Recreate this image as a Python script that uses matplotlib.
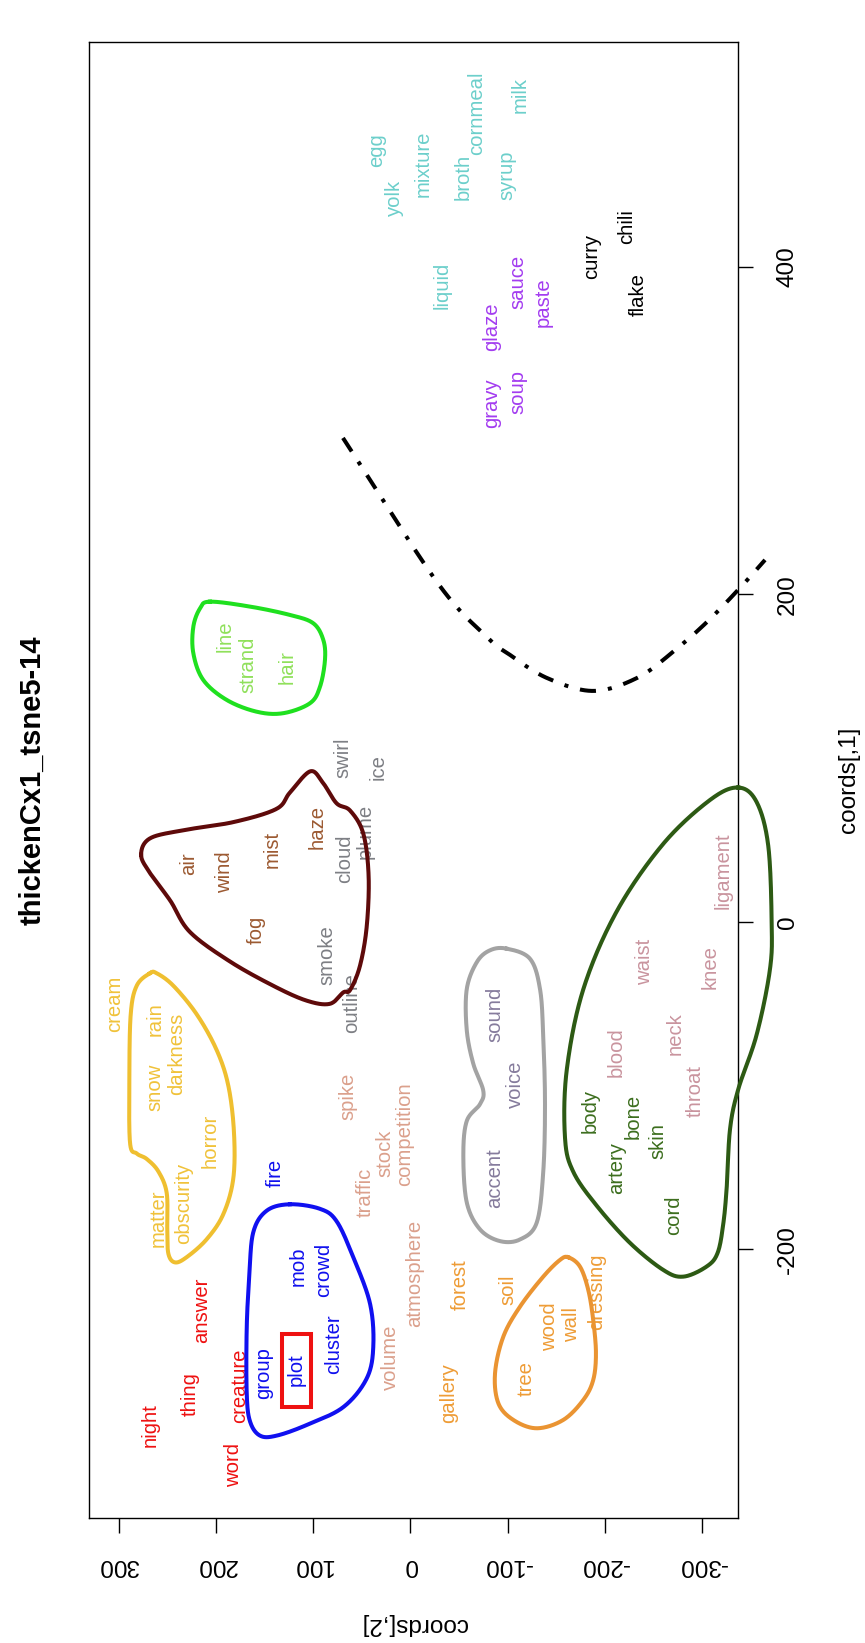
import numpy as np
import matplotlib
matplotlib.use("Agg")
import matplotlib.pyplot as plt
from matplotlib.patches import Rectangle

plt.rcParams['font.family'] = ['Liberation Sans', 'DejaVu Sans']

TITLE = "thickenCx1_tsne5-14"
XLAB = "coords[,1]"
YLAB = "coords[,2]"

# ---- word positions: (coords[,1], coords[,2]) ----
red_words = ["night", "thing", "word", "creature", "answer"]
red_c1 = [-307.2, -288.6, -331.6, -283.2, -237.4]
red_c2 = [267.9, 226.7, 181.5, 175.3, 214.7]

blue_words = ["fire", "mob", "crowd", "group", "plot", "cluster"]
blue_c1 = [-153.4, -210.1, -212.3, -275.5, -273.3, -258.1]
blue_c2 = [139.3, 115.3, 89.6, 151.3, 117.0, 79.3]

yellow_words = ["cream", "rain", "snow", "darkness", "horror", "matter", "obscurity"]
yellow_c1 = [-49.8, -59.6, -101.1, -80.4, -133.8, -180.7, -172.0]
yellow_c2 = [303.9, 262.7, 262.7, 240.4, 206.2, 259.3, 233.6]

brown_words = ["air", "wind", "mist", "fog", "haze"]
brown_c1 = [35.8, 30.7, 44.0, -4.9, 58.2]
brown_c2 = [228.5, 190.7, 142.7, 158.1, 96.4]

grey_words = ["smoke", "outline", "cloud", "plume", "swirl", "ice"]
grey_c1 = [-20.2, -49.8, 38.9, 55.1, 100.0, 94.8]
grey_c2 = [86.1, 60.4, 67.3, 46.7, 69.1, 33.1]

lime_words = ["line", "strand", "hair"]
lime_c1 = [174.2, 156.9, 155.9]
lime_c2 = [190.7, 166.8, 127.3]

salmon_words = ["spike", "traffic", "stock", "competition", "atmosphere", "volume"]
salmon_c1 = [-106.5, -165.4, -141.4, -129.4, -214.5, -265.7]
salmon_c2 = [63.9, 46.7, 26.2, 5.6, -4.7, 21.0]

orange_words = ["forest", "soil", "gallery", "tree", "wood", "wall", "dressing"]
orange_c1 = [-221.7, -224.7, -287.8, -278.7, -247.1, -246.1, -225.8]
orange_c2 = [-51.0, -100.7, -38.9, -119.6, -143.5, -165.9, -191.6]

slate_words = ["sound", "voice", "accent"]
slate_c1 = [-56.6, -98.9, -156.7]
slate_c2 = [-87.0, -107.5, -87.0]

dkgreen_words = ["body", "artery", "bone", "skin", "cord"]
dkgreen_c1 = [-115.4, -150.5, -118.5, -134.0, -179.4]
dkgreen_c2 = [-184.7, -212.1, -229.2, -254.9, -270.4]

pink_words = ["blood", "waist", "neck", "throat", "knee", "ligament"]
pink_c1 = [-79.3, -24.6, -68.0, -103.0, -27.7, 31.1]
pink_c2 = [-212.1, -241.2, -272.1, -292.7, -308.1, -321.8]

cyan_words = ["egg", "yolk", "mixture", "broth", "cornmeal", "syrup", "milk", "liquid"]
cyan_c1 = [471.5, 441.9, 463.3, 455.2, 493.9, 456.2, 505.0, 389.0]
cyan_c2 = [34.7, 15.9, -13.2, -54.4, -68.1, -99.0, -112.7, -32.1]

purple_words = ["glaze", "gravy", "sauce", "soup", "paste"]
purple_c1 = [363.5, 316.8, 391.0, 323.9, 378.8]
purple_c2 = [-83.6, -83.6, -110.9, -110.9, -136.7]

black_words = ["curry", "chili", "flake"]
black_c1 = [406.3, 424.6, 382.9]
black_c2 = [-186.4, -222.4, -234.4]

# ---- hull outlines (coords[,2], coords[,1]) ----
hull_blue_c2 = [123.9, 147.8, 161.6, 165.7, 168.4, 168.4, 165.0, 154.7, 137.6, 106.7, 69.1, 45.0, 38.2, 41.6, 58.8, 75.9, 93.0]
hull_blue_c1 = [-172.4, -176.3, -189.4, -215.6, -248.3, -287.6, -305.0, -313.7, -313.7, -307.2, -296.3, -278.8, -259.2, -233.0, -204.7, -182.8, -175.2]

hull_yellow_c2 = [267.9, 281.5, 287.7, 289.1, 288.4, 281.5, 271.3, 259.3, 250.7, 250.1, 249.0, 242.2, 230.1, 209.6, 192.5, 182.2, 181.5, 187.3, 199.3, 219.8, 243.9, 261.0]
hull_yellow_c1 = [-31.3, -38.9, -56.4, -95.6, -134.9, -141.4, -144.7, -152.3, -165.4, -187.2, -202.5, -207.9, -204.7, -193.8, -178.5, -156.7, -128.3, -100.0, -78.2, -56.4, -38.9, -31.3]

hull_maroon_c2 = [277.0, 268.0, 234.0, 182.0, 138.0, 124.0, 103.0, 90.0, 76.0, 62.0, 48.5, 43.0, 45.0, 52.0, 62.0, 69.0, 83.0, 107.0, 141.0, 186.0, 227.0, 247.0, 268.0]
hull_maroon_c1 = [41.0, 51.0, 56.0, 61.0, 69.0, 79.0, 92.0, 85.0, 72.5, 68.0, 54.0, 28.0, -3.0, -27.0, -41.5, -43.0, -50.0, -48.0, -39.0, -24.0, -6.0, 13.0, 30.0]

hull_lime_c2 = [206.2, 165.0, 123.9, 99.9, 89.6, 87.9, 93.0, 103.3, 130.8, 158.1, 189.0, 213.1, 223.3, 223.3, 216.4]
hull_lime_c1 = [195.6, 192.6, 187.5, 182.4, 172.2, 160.0, 143.7, 133.6, 127.5, 128.4, 135.6, 147.8, 164.1, 180.3, 191.5]

hull_grey_c2 = [-99.0, -123.0, -133.3, -136.6, -138.4, -136.6, -129.9, -112.7, -92.1, -71.5, -57.9, -54.4, -57.9, -71.5, -74.9, -64.6, -57.9, -57.9, -68.2, -81.8]
hull_grey_c1 = [-16.3, -22.5, -41.1, -70.0, -111.3, -152.6, -183.6, -193.9, -194.9, -187.7, -171.2, -142.3, -121.6, -111.3, -103.0, -86.5, -65.9, -41.1, -24.6, -17.3]

hull_dkgreen_c2 = [-337.2, -356.1, -368.0, -371.5, -369.8, -356.1, -337.2, -328.7, -325.3, -321.8, -316.0, -304.7, -280.6, -260.0, -225.8, -191.6, -167.5, -159.0, -160.7, -177.8, -212.1, -260.0, -308.1]
hull_dkgreen_c1 = [82.1, 73.2, 46.6, 0.0, -28.8, -68.8, -102.1, -126.5, -162.0, -184.2, -202.0, -210.4, -216.6, -212.5, -196.0, -173.3, -152.6, -132.0, -90.7, -41.1, 6.4, 47.7, 74.5]

hull_orange_c2 = [-162.4, -174.4, -182.9, -188.0, -190.8, -188.0, -177.8, -157.2, -129.9, -105.8, -90.4, -87.0, -95.5, -112.7, -136.6, -153.8]
hull_orange_c1 = [-204.8, -210.5, -224.7, -243.1, -263.4, -279.7, -291.9, -304.1, -309.2, -304.1, -293.9, -275.6, -253.3, -234.9, -216.6, -206.4]

# open dot-dash curve (coords[,2], coords[,1])
curve_c2 = [69.4, -27.3, -78.7, -102.4, -140.4, -187.7, -233.0, -270.0, -305.0, -338.9, -364.7]
curve_c1 = [295.6, 207.6, 174.0, 163.1, 149.0, 141.1, 149.0, 164.9, 183.2, 204.0, 221.1]

# red box around "plot"
box_c2 = [102.6, 132.4]
box_c1 = [-296.3, -251.5]

x_ticks = [-200, 0, 200, 400]
y_ticks = [300, 200, 100, 0, -100, -200, -300]


def _cr(p0, p1, p2, p3, n):
    t = np.linspace(0, 1, n, endpoint=False)[:, None]
    return 0.5 * ((2 * p1) + (-p0 + p2) * t + (2 * p0 - 5 * p1 + 4 * p2 - p3) * t ** 2
                  + (-p0 + 3 * p1 - 3 * p2 + p3) * t ** 3)


def closed_spline(xs, ys, n=40):
    pts = np.column_stack([xs, ys]).astype(float)
    m = len(pts)
    segs = [_cr(pts[(i - 1) % m], pts[i], pts[(i + 1) % m], pts[(i + 2) % m], n) for i in range(m)]
    segs.append(pts[:1])
    out = np.vstack(segs)
    return out[:, 0], out[:, 1]


def open_spline(xs, ys, n=40):
    pts = np.column_stack([xs, ys]).astype(float)
    ext = np.vstack([2 * pts[0] - pts[1], pts, 2 * pts[-1] - pts[-2]])
    segs = [_cr(ext[i - 1], ext[i], ext[i + 1], ext[i + 2], n) for i in range(1, len(ext) - 2)]
    segs.append(pts[-1:])
    out = np.vstack(segs)
    return out[:, 0], out[:, 1]


W, H = 865, 1643
fig = plt.figure(figsize=(W / 100, H / 100), dpi=100)
L, R, T, B = 89, 738, 42, 1518
ax = fig.add_axes([L / W, 1 - B / H, (R - L) / W, (B - T) / H])
ax.set_xlim(330.6, -336.9)
ax.set_ylim(-364.0, 537.4)

for s in ax.spines.values():
    s.set_linewidth(1.0)
    s.set_color("black")

WFS = 14.6
groups = [
    (red_words, red_c1, red_c2, "#ee1111"),
    (blue_words, blue_c1, blue_c2, "#1010ee"),
    (yellow_words, yellow_c1, yellow_c2, "#f0c23a"),
    (brown_words, brown_c1, brown_c2, "#9c5a32"),
    (grey_words, grey_c1, grey_c2, "#7d7f84"),
    (lime_words, lime_c1, lime_c2, "#8fe05a"),
    (salmon_words, salmon_c1, salmon_c2, "#dba08c"),
    (orange_words, orange_c1, orange_c2, "#ee9c36"),
    (slate_words, slate_c1, slate_c2, "#857b9c"),
    (dkgreen_words, dkgreen_c1, dkgreen_c2, "#3c6e1e"),
    (pink_words, pink_c1, pink_c2, "#c9949e"),
    (cyan_words, cyan_c1, cyan_c2, "#6ccfcb"),
    (purple_words, purple_c1, purple_c2, "#a33cf0"),
    (black_words, black_c1, black_c2, "#000000"),
]
for words, c1s, c2s, col in groups:
    for w, a, b in zip(words, c1s, c2s):
        ax.text(b, a, w, rotation=90, ha="center", va="center", fontsize=WFS,
                color=col, zorder=2)

HLW = 2.9
hulls = [
    (hull_blue_c2, hull_blue_c1, "#1010f0"),
    (hull_yellow_c2, hull_yellow_c1, "#efbf30"),
    (hull_maroon_c2, hull_maroon_c1, "#5e0a0a"),
    (hull_lime_c2, hull_lime_c1, "#1fe01f"),
    (hull_grey_c2, hull_grey_c1, "#a3a3a3"),
    (hull_dkgreen_c2, hull_dkgreen_c1, "#2d5a14"),
    (hull_orange_c2, hull_orange_c1, "#ea9432"),
]
for xs, ys, col in hulls:
    sx, sy = closed_spline(xs, ys)
    ax.plot(sx, sy, color=col, lw=HLW, zorder=3, clip_on=False,
            solid_joinstyle="round")

cx, cy = open_spline(curve_c2, curve_c1)
ax.plot(cx, cy, color="black", lw=HLW, linestyle=(0, (4, 3, 1, 3)),
        dash_capstyle="butt", zorder=3, clip_on=False)

ax.add_patch(Rectangle((min(box_c2), min(box_c1)), abs(box_c2[1] - box_c2[0]),
                       abs(box_c1[1] - box_c1[0]), fill=False, edgecolor="#ee1111",
                       lw=HLW, zorder=3))

# axes ticks
ax.set_xticks(y_ticks)
ax.set_xticklabels([str(v) for v in y_ticks], rotation=180, va="center", ha="center")
ax.yaxis.tick_right()
ax.set_yticks(x_ticks)
ax.set_yticklabels([str(v) for v in x_ticks], rotation=90, va="center", ha="center")
ax.tick_params(axis="x", length=10.8, width=1.0, pad=22.7, labelsize=17.5, direction="out")
ax.tick_params(axis="y", length=10.8, width=1.0, pad=25.2, labelsize=17.5, direction="out")

fig.text(849 / W, 1 - 780 / H, XLAB, rotation=90, ha="center", va="center", fontsize=17.5)
fig.text(413.5 / W, 1 - 1624 / H, YLAB, rotation=180, ha="center", va="center", fontsize=17.5)
fig.text(32 / W, 1 - 780 / H, TITLE, rotation=90, ha="center", va="center",
         fontsize=21, fontweight="bold")

fig.savefig("out.png", dpi=100)
